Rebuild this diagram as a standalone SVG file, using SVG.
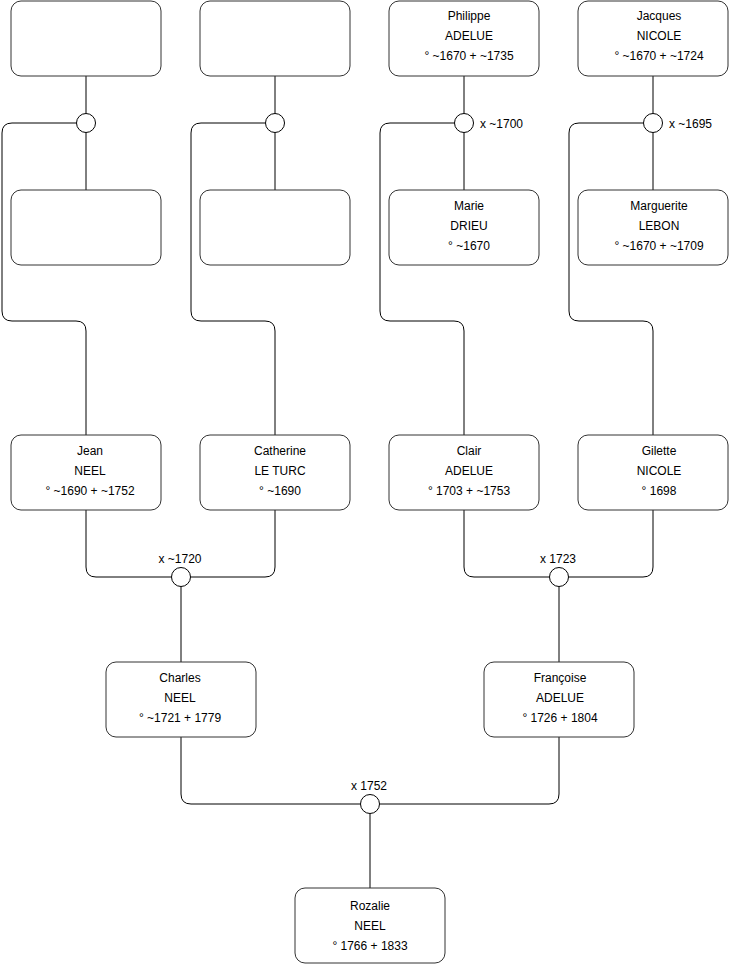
<svg xmlns="http://www.w3.org/2000/svg" width="740" height="975" viewBox="0 0 740 975">
<style>
.box{fill:#fff;stroke:#333;stroke-width:1}
.ln{fill:none;stroke:#000;stroke-width:1}
.ring{fill:#fff;stroke:#000;stroke-width:1}
text{font-family:"Liberation Sans",Arial,sans-serif;font-size:12px;fill:#000}
.c{text-anchor:middle}
</style>
<rect width="740" height="975" fill="#fff"/>
<g id="connectors">
<!-- column 1 -->
<path class="ln" d="M86,76 V113.5 M86,132.5 V190"/>
<path class="ln" d="M76.5,123 H12 Q2,123 2,133 V311 Q2,321 12,321 H76 Q86,321 86,331 V435"/>
<!-- column 2 -->
<path class="ln" d="M275,76 V113.5 M275,132.5 V190"/>
<path class="ln" d="M265.5,123 H201 Q191,123 191,133 V311 Q191,321 201,321 H265 Q275,321 275,331 V435"/>
<!-- column 3 -->
<path class="ln" d="M464,76 V113.5 M464,132.5 V190"/>
<path class="ln" d="M454.5,123 H390 Q380,123 380,133 V311 Q380,321 390,321 H454 Q464,321 464,331 V435"/>
<!-- column 4 -->
<path class="ln" d="M653,76 V113.5 M653,132.5 V190"/>
<path class="ln" d="M643.5,123 H579 Q569,123 569,133 V311 Q569,321 579,321 H643 Q653,321 653,331 V435"/>
<!-- gen 3 marriages -->
<path class="ln" d="M86,510 V567 Q86,577 96,577 H171.5 M275,510 V567 Q275,577 265,577 H190.5 M181,586.5 V662"/>
<path class="ln" d="M464,510 V567 Q464,577 474,577 H549.5 M653,510 V567 Q653,577 643,577 H568.5 M559,586.5 V662"/>
<!-- gen 2 marriage -->
<path class="ln" d="M181,737 V794 Q181,804 191,804 H360.5 M559,737 V794 Q559,804 549,804 H379.5 M370,813.5 V888"/>
<circle class="ring" cx="86" cy="123" r="9.5"/>
<circle class="ring" cx="275" cy="123" r="9.5"/>
<circle class="ring" cx="464" cy="123" r="9.5"/>
<circle class="ring" cx="653" cy="123" r="9.5"/>
<circle class="ring" cx="181" cy="577" r="9.5"/>
<circle class="ring" cx="559" cy="577" r="9.5"/>
<circle class="ring" cx="370" cy="804" r="9.5"/>
<text x="480" y="128">x ~1700</text>
<text x="669" y="128">x ~1695</text>
<text class="c" x="180" y="563">x ~1720</text>
<text class="c" x="558" y="563">x 1723</text>
<text class="c" x="369" y="790">x 1752</text>
</g>
<g id="unknown1"><rect class="box" x="11" y="1" width="150" height="75" rx="10"/></g>
<g id="unknown2"><rect class="box" x="200" y="1" width="150" height="75" rx="10"/></g>
<g id="philippe"><rect class="box" x="389" y="1" width="150" height="75" rx="10"/>
<text class="c" x="469" y="20">Philippe</text><text class="c" x="469" y="40">ADELUE</text><text class="c" x="469" y="60">° ~1670 + ~1735</text></g>
<g id="jacques"><rect class="box" x="578" y="1" width="150" height="75" rx="10"/>
<text class="c" x="659" y="20">Jacques</text><text class="c" x="659" y="40">NICOLE</text><text class="c" x="659" y="60">° ~1670 + ~1724</text></g>
<g id="unknown3"><rect class="box" x="11" y="190" width="150" height="75" rx="10"/></g>
<g id="unknown4"><rect class="box" x="200" y="190" width="150" height="75" rx="10"/></g>
<g id="marie"><rect class="box" x="389" y="190" width="150" height="75" rx="10"/>
<text class="c" x="469" y="210">Marie</text><text class="c" x="469" y="230">DRIEU</text><text class="c" x="469" y="250">° ~1670</text></g>
<g id="marguerite"><rect class="box" x="578" y="190" width="150" height="75" rx="10"/>
<text class="c" x="659" y="210">Marguerite</text><text class="c" x="659" y="230">LEBON</text><text class="c" x="659" y="250">° ~1670 + ~1709</text></g>
<g id="jean"><rect class="box" x="11" y="435" width="150" height="75" rx="10"/>
<text class="c" x="90" y="455">Jean</text><text class="c" x="90" y="475">NEEL</text><text class="c" x="90" y="495">° ~1690 + ~1752</text></g>
<g id="catherine"><rect class="box" x="200" y="435" width="150" height="75" rx="10"/>
<text class="c" x="280" y="455">Catherine</text><text class="c" x="280" y="475">LE TURC</text><text class="c" x="280" y="495">° ~1690</text></g>
<g id="clair"><rect class="box" x="389" y="435" width="150" height="75" rx="10"/>
<text class="c" x="469" y="455">Clair</text><text class="c" x="469" y="475">ADELUE</text><text class="c" x="469" y="495">° 1703 + ~1753</text></g>
<g id="gilette"><rect class="box" x="578" y="435" width="150" height="75" rx="10"/>
<text class="c" x="659" y="455">Gilette</text><text class="c" x="659" y="475">NICOLE</text><text class="c" x="659" y="495">° 1698</text></g>
<g id="charles"><rect class="box" x="106" y="662" width="150" height="75" rx="10"/>
<text class="c" x="180" y="682">Charles</text><text class="c" x="180" y="702">NEEL</text><text class="c" x="180" y="722">° ~1721 + 1779</text></g>
<g id="francoise"><rect class="box" x="484" y="662" width="150" height="75" rx="10"/>
<text class="c" x="560" y="682">Françoise</text><text class="c" x="560" y="702">ADELUE</text><text class="c" x="560" y="722">° 1726 + 1804</text></g>
<g id="rozalie"><rect class="box" x="295" y="888" width="150" height="75" rx="10"/>
<text class="c" x="370" y="910">Rozalie</text><text class="c" x="370" y="930">NEEL</text><text class="c" x="370" y="950">° 1766 + 1833</text></g>
</svg>
